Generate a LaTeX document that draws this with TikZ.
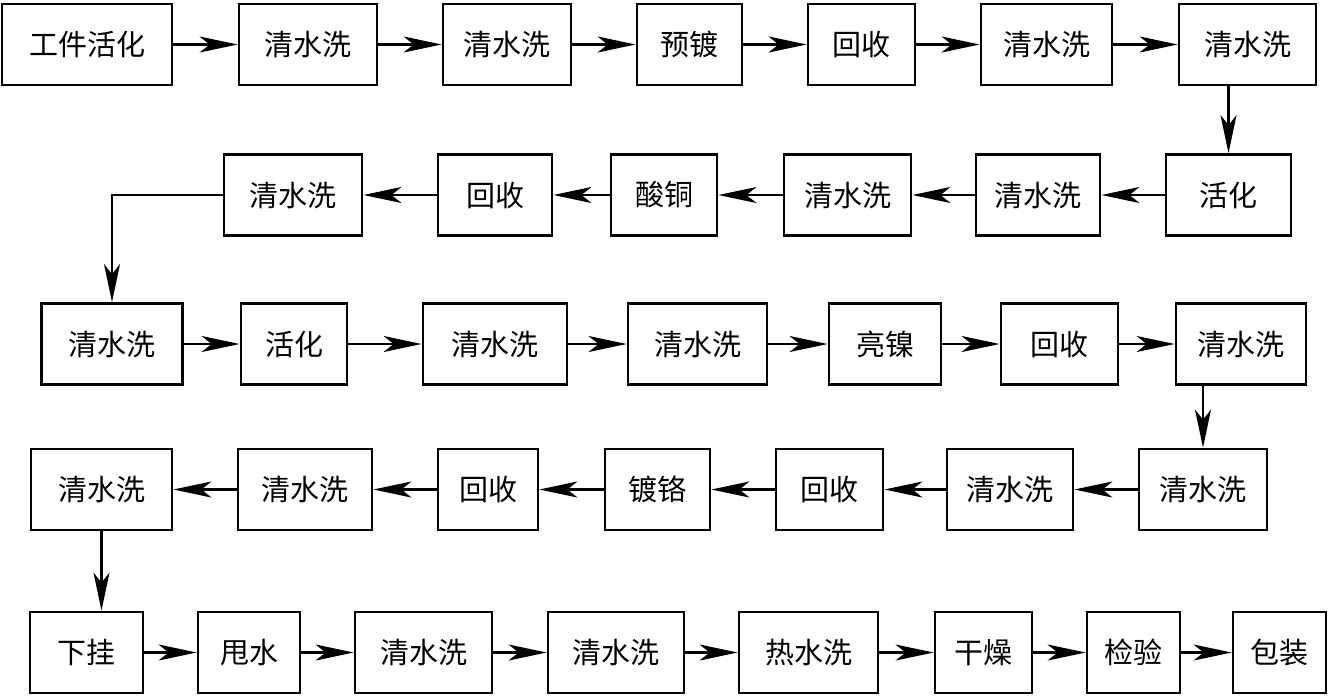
\documentclass[tikz,border=0pt]{standalone}
\usepackage{fontspec}
\setmainfont{Noto Sans CJK SC}
\usetikzlibrary{arrows.meta}
\tikzset{
    gongxu/.style = {draw, line width=2.8pt, minimum height=81pt, inner sep=0pt,
                     font=\fontsize{29pt}{31pt}\selectfont},
    link/.style   = {-{Stealth[length=38pt, width=16pt, inset=10pt]}, line width=2.3pt}
}

\begin{document}
\begin{tikzpicture}[x=1pt, y=-1pt]
        \useasboundingbox (0,0) rectangle (1329,697);

        % --- Reihe 1 ---
        \node[gongxu, minimum width=170pt] (a1) at (87,44.5)     {工件活化};
        \node[gongxu, minimum width=138pt] (a2) at (308,44.5)    {清水洗};
        \node[gongxu, minimum width=128pt] (a3) at (507,44.5)    {清水洗};
        \node[gongxu, minimum width=105pt] (a4) at (689.5,44.5)  {预镀};
        \node[gongxu, minimum width=107pt] (a5) at (861.5,44.5)  {回收};
        \node[gongxu, minimum width=131pt] (a6) at (1046.5,44.5) {清水洗};
        \node[gongxu, minimum width=137pt] (a7) at (1247.5,44.5) {清水洗};

        \draw[link] (a1) -- (a2);
        \draw[link] (a2) -- (a3);
        \draw[link] (a3) -- (a4);
        \draw[link] (a4) -- (a5);
        \draw[link] (a5) -- (a6);
        \draw[link] (a6) -- (a7);

        % --- Reihe 2 ---
        \node[gongxu, minimum width=125pt] (b1) at (1228.5,195) {活化};
        \node[gongxu, minimum width=124pt] (b2) at (1038,195)   {清水洗};
        \node[gongxu, minimum width=127pt] (b3) at (847.5,195)  {清水洗};
        \node[gongxu, minimum width=106pt] (b4) at (664,195)    {酸铜};
        \node[gongxu, minimum width=114pt] (b5) at (495,195)    {回收};
        \node[gongxu, minimum width=138pt] (b6) at (293,195)    {清水洗};

        \draw[link] (a7.south -| b1.north) -- (b1.north);
        \draw[link] (b1) -- (b2);
        \draw[link] (b2) -- (b3);
        \draw[link] (b3) -- (b4);
        \draw[link] (b4) -- (b5);
        \draw[link] (b5) -- (b6);

        % --- Reihe 3 ---
        \node[gongxu, minimum width=141pt] (c1) at (112,344)    {清水洗};
        \node[gongxu, minimum width=106pt] (c2) at (294,344)    {活化};
        \node[gongxu, minimum width=144pt] (c3) at (495,344)    {清水洗};
        \node[gongxu, minimum width=139pt] (c4) at (697.5,344)  {清水洗};
        \node[gongxu, minimum width=112pt] (c5) at (885,344)    {亮镍};
        \node[gongxu, minimum width=117pt] (c6) at (1059.5,344) {回收};
        \node[gongxu, minimum width=130pt] (c7) at (1241,344)   {清水洗};

        \draw[link] (b6.west) -| (c1.north);
        \draw[link] (c1) -- (c2);
        \draw[link] (c2) -- (c3);
        \draw[link] (c3) -- (c4);
        \draw[link] (c4) -- (c5);
        \draw[link] (c5) -- (c6);
        \draw[link] (c6) -- (c7);

        % --- Reihe 4 ---
        \node[gongxu, minimum width=128pt] (d1) at (1203,489.5)  {清水洗};
        \node[gongxu, minimum width=126pt] (d2) at (1010,489.5)  {清水洗};
        \node[gongxu, minimum width=107pt] (d3) at (829.5,489.5) {回收};
        \node[gongxu, minimum width=105pt] (d4) at (657.5,489.5) {镀铬};
        \node[gongxu, minimum width=100pt] (d5) at (488,489.5)   {回收};
        \node[gongxu, minimum width=134pt] (d6) at (305,489.5)   {清水洗};
        \node[gongxu, minimum width=141pt] (d7) at (101.5,489.5) {清水洗};

        \draw[link] (c7.south -| d1.north) -- (d1.north);
        \draw[link] (d1) -- (d2);
        \draw[link] (d2) -- (d3);
        \draw[link] (d3) -- (d4);
        \draw[link] (d4) -- (d5);
        \draw[link] (d5) -- (d6);
        \draw[link] (d6) -- (d7);

        % --- Reihe 5 ---
        \node[gongxu, minimum width=113pt] (e1) at (86.5,652.5)  {下挂};
        \node[gongxu, minimum width=102pt] (e2) at (249,652.5)   {甩水};
        \node[gongxu, minimum width=137pt] (e3) at (423.5,652.5) {清水洗};
        \node[gongxu, minimum width=136pt] (e4) at (616,652.5)   {清水洗};
        \node[gongxu, minimum width=139pt] (e5) at (808.5,652.5) {热水洗};
        \node[gongxu, minimum width=97pt]  (e6) at (983.5,652.5) {干燥};
        \node[gongxu, minimum width=93pt]  (e7) at (1133.5,652.5) {检验};
        \node[gongxu, minimum width=93pt]  (e8) at (1279.5,652.5) {包装};

        \draw[link] (d7.south) -- (d7.south |- e1.north);
        \draw[link] (e1) -- (e2);
        \draw[link] (e2) -- (e3);
        \draw[link] (e3) -- (e4);
        \draw[link] (e4) -- (e5);
        \draw[link] (e5) -- (e6);
        \draw[link] (e6) -- (e7);
        \draw[link] (e7) -- (e8);
    \end{tikzpicture}
\end{document}
